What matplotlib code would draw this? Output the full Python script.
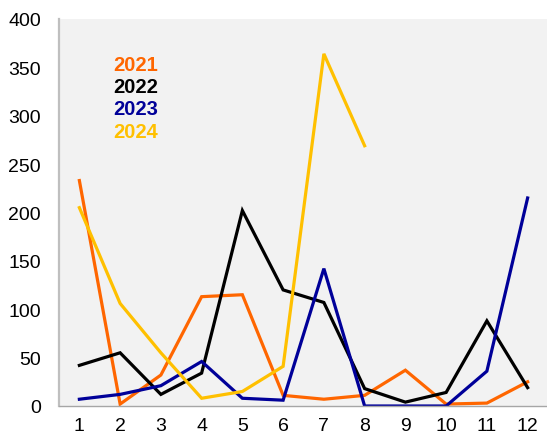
import matplotlib.pyplot as plt

plt.rcParams['font.family'] = ['Liberation Sans', 'DejaVu Sans']

months = list(range(1, 13))

# monthly values per year
y2021 = [233, 2, 32, 113, 115, 11, 7, 11, 37, 2, 3, 25]
y2022 = [42, 55, 12, 34, 202, 120, 107, 18, 4, 14, 88, 19]
y2023 = [7, 12, 21, 46, 8, 6, 142, 0, 0, 0, 36, 215]
y2024 = [205, 106, 55, 8, 15, 41, 364, 269]

years = ['2021', '2022', '2023', '2024']
colors = ['#FF6600', '#000000', '#000099', '#FFC000']
series = [y2021, y2022, y2023, y2024]

fig = plt.figure(figsize=(5.47, 4.39), dpi=100)
ax = fig.add_axes([59 / 547, 1 - 407 / 439, 489 / 547, 387 / 439])
ax.set_facecolor('#F2F2F2')

for name, col, vals in zip(years, colors, series):
    ax.plot(months[:len(vals)], vals, color=col, lw=2.3, label=name,
            solid_joinstyle='miter')

ax.set_xlim(0.5, 12.5)
ax.set_ylim(0, 400)
ax.set_xticks(months)
ax.set_yticks(range(0, 401, 50))
ax.tick_params(length=0, labelsize=14)
ax.tick_params(axis='y', pad=13)
ax.tick_params(axis='x', pad=8)

for s in ['top', 'right']:
    ax.spines[s].set_visible(False)
ax.spines['left'].set_color('#BFBFBF')
ax.spines['left'].set_linewidth(1.6)
ax.spines['bottom'].set_color('#A6A6A6')
ax.spines['bottom'].set_linewidth(1.0)

leg = ax.legend(loc='upper left', bbox_to_anchor=(0.073, 0.955), frameon=False,
                handlelength=0, handletextpad=0, labelspacing=0.17,
                prop={'weight': 'bold', 'size': 14.5})
for txt, col in zip(leg.get_texts(), colors):
    txt.set_color(col)
for h in leg.legend_handles:
    h.set_visible(False)

fig.savefig('out.png', dpi=100)
